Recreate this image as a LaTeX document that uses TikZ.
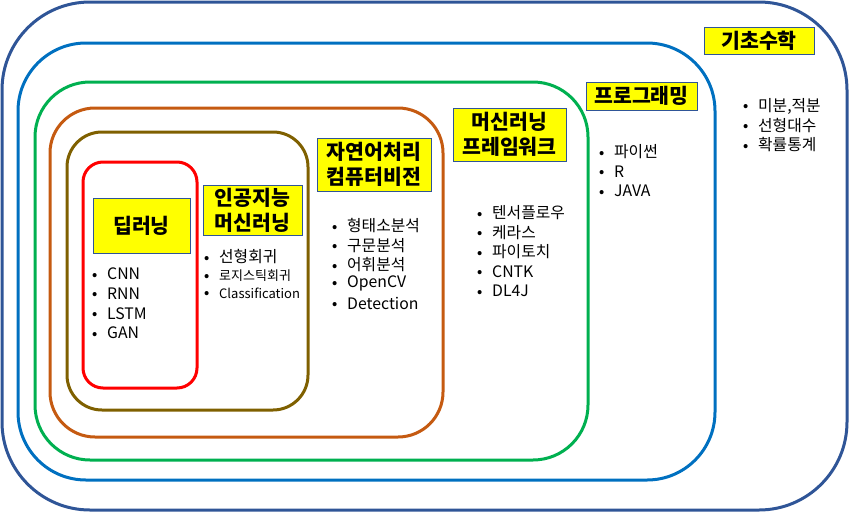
\documentclass[tikz,border=0pt]{standalone}
\usepackage{fontspec}
\setmainfont{Noto Sans CJK KR}
\definecolor{cOuter}{HTML}{2F5597}
\definecolor{cBlue}{HTML}{0070C0}
\definecolor{cGreen}{HTML}{00B050}
\definecolor{cOrange}{HTML}{C55A11}
\definecolor{cBrown}{HTML}{7F6000}
\definecolor{cRed}{HTML}{FF0000}
\definecolor{cYellow}{HTML}{FFFF00}
\tikzset{
  ring/.style={line width=3pt},
  lbl/.style={draw=cOuter, line width=0.8pt, fill=cYellow, inner sep=0pt, align=center,
    font=\fontsize{20.5}{25}\selectfont\bfseries},
  item/.style={anchor=west, inner sep=0pt, font=\fontsize{15.8}{18}\selectfont},
  smallitem/.style={anchor=west, inner sep=0pt, font=\fontsize{13}{16}\selectfont},
}
\newcommand{\bul}[1]{\makebox[15pt][l]{\raisebox{0.5pt}{\fontsize{13}{13}\selectfont\bfseries •}}#1}
\begin{document}
\begin{tikzpicture}[x=1pt,y=-1pt]
\useasboundingbox (0,0) rectangle (849,512);
% rings
\draw[ring, cOuter, rounded corners=88pt] (2,2) rectangle (847,510);
\draw[ring, cBlue, rounded corners=68pt] (18,43) rectangle (715,480);
\draw[ring, cGreen, rounded corners=55pt] (35,82) rectangle (588,460);
\draw[ring, cOrange, rounded corners=45pt] (50,108) rectangle (443,437);
\draw[ring, cBrown, rounded corners=35pt] (67,132) rectangle (308,410);
\draw[ring, cRed, rounded corners=20pt] (83,162) rectangle (197,388);
% labels
\node[lbl, minimum width=97pt, minimum height=55pt] (dl) at (141.5,225.5) {딥러닝};
\node[lbl, minimum width=99pt, minimum height=50pt] (ai) at (252.5,210) {인공지능\\머신러닝};
\node[lbl, minimum width=114pt, minimum height=53pt] (nlp) at (374,164.5) {자연어처리\\컴퓨터비전};
\node[lbl, minimum width=113pt, minimum height=53pt] (fw) at (509.5,134.5) {머신러닝\\프레임워크};
\node[lbl, minimum width=111pt, minimum height=28pt] (pg) at (641.5,96) {프로그래밍};
\node[lbl, minimum width=110pt, minimum height=27pt] (mt) at (759,40.5) {기초수학};
% lists
\foreach \t [count=\i] in {CNN,RNN,LSTM,GAN}
  \node[item] (a\i) at (92,{274+19.7*(\i-1)}) {\bul{\t}};
\node[item] (b1) at (204,257) {\bul{선형회귀}};
\node[smallitem] (b2) at (204,276) {\bul{로지스틱회귀}};
\node[smallitem] (b3) at (204,293) {\bul{Classification}};
\foreach \t [count=\i] in {형태소분석,구문분석,어휘분석,OpenCV,Detection}
  \node[item] (c\i) at (332,{226+19.3*(\i-1)}) {\bul{\t}};
\foreach \t [count=\i] in {텐서플로우,케라스,파이토치,CNTK,DL4J}
  \node[item] (d\i) at (477,{213+19.5*(\i-1)}) {\bul{\t}};
\foreach \t [count=\i] in {파이썬,R,JAVA}
  \node[item] (e\i) at (599,{152+19.5*(\i-1)}) {\bul{\t}};
\foreach \t [count=\i] in {{미분,적분},선형대수,확률통계}
  \node[item] (f\i) at (743,{106+19.5*(\i-1)}) {\bul{\t}};
\end{tikzpicture}
\end{document}
